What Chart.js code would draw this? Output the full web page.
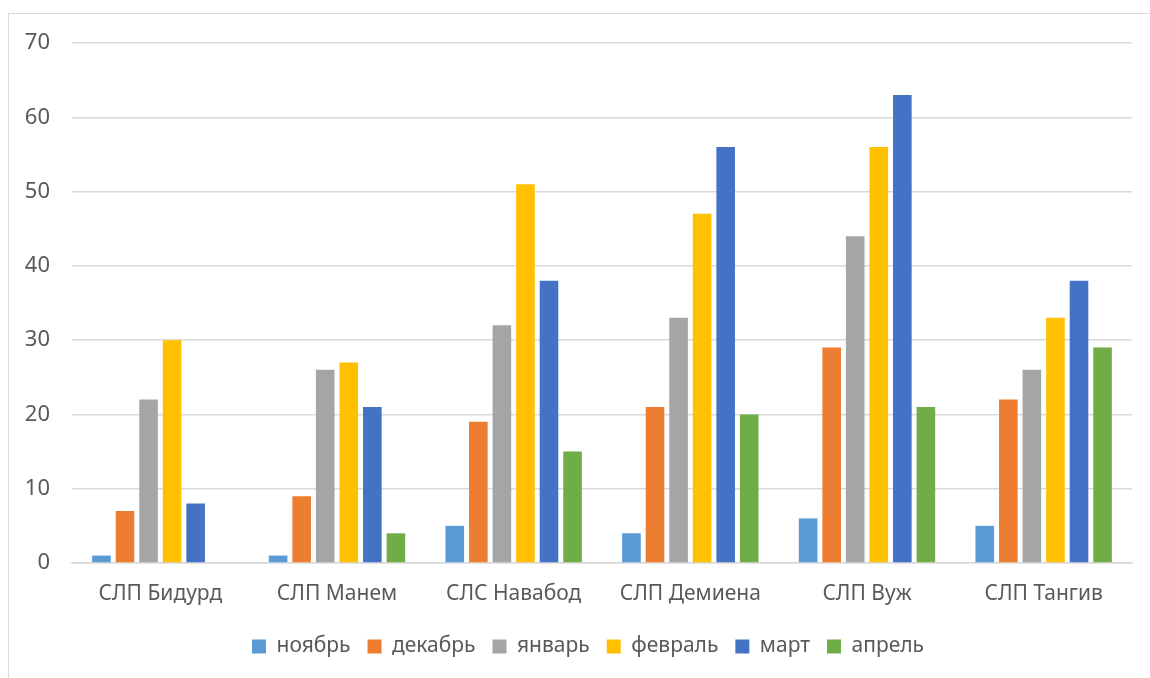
<!DOCTYPE html>
<html>
<head>
<meta charset="utf-8">
<script src="https://cdn.jsdelivr.net/npm/chart.js@4/dist/chart.umd.min.js"></script>
<style>
  html, body { margin: 0; padding: 0; background: #ffffff; }
  #wrap { width: 1150px; height: 678px; position: relative; }
</style>
</head>
<body>
<div id="wrap"><canvas id="chart" width="1150" height="678"></canvas></div>
<script>
// Участки (категории по оси X)
const categories = ['СЛП Бидурд', 'СЛП Манем', 'СЛС Навабод', 'СЛП Демиена', 'СЛП Вуж', 'СЛП Тангив'];

// Значения по месяцам
const november = [1, 1, 5, 4, 6, 5];
const december = [7, 9, 19, 21, 29, 22];
const january  = [22, 26, 32, 33, 44, 26];
const february = [30, 27, 51, 47, 56, 33];
const march    = [8, 21, 38, 56, 63, 38];
const april    = [0, 4, 15, 20, 21, 29];

const seriesNames = ['ноябрь', 'декабрь', 'январь', 'февраль', 'март', 'апрель'];
const seriesValues = [november, december, january, february, march, april];
const seriesColors = ['#5B9BD5', '#ED7D31', '#A5A5A5', '#FFC000', '#4472C4', '#70AD47'];

// Шкала Y
const yMin = 0, yMax = 70, yStep = 10;

const textColor = '#595959';
const gridColor = '#D9D9D9';
const fontFamily = '"Noto Sans", "Open Sans", sans-serif';

// Рамка области диаграммы
const frame = {
  id: 'frame',
  beforeDraw(chart) {
    const ctx = chart.ctx;
    ctx.save();
    ctx.fillStyle = '#ffffff';
    ctx.fillRect(0, 0, chart.width, chart.height);
    ctx.strokeStyle = gridColor;
    ctx.lineWidth = 1;
    ctx.beginPath();
    ctx.moveTo(8.5, chart.height);
    ctx.lineTo(8.5, 13.5);
    ctx.lineTo(chart.width, 13.5);
    ctx.stroke();
    ctx.restore();
  }
};

// Легенда центрируется по всей ширине рамки, а не только по области графика
const legendShift = {
  id: 'legendShift',
  afterLayout(chart) {
    const lg = chart.legend;
    if (lg) { lg.left += 12; lg.right += 12; }
  }
};

new Chart(document.getElementById('chart'), {
  type: 'bar',
  data: {
    labels: categories,
    datasets: seriesNames.map((name, i) => ({
      label: name,
      data: seriesValues[i],
      backgroundColor: seriesColors[i],
      borderWidth: 0,
      categoryPercentage: 0.8,
      barPercentage: 0.79
    }))
  },
  options: {
    responsive: false,
    animation: false,
    devicePixelRatio: 1,
    layout: { padding: { left: 20, right: 18, top: 43, bottom: 11 } },
    plugins: {
      tooltip: { enabled: false },
      legend: {
        position: 'bottom',
        labels: {
          boxWidth: 14,
          boxHeight: 14,
          padding: 17,
          color: textColor,
          font: { family: fontFamily, size: 21 }
        }
      }
    },
    scales: {
      x: {
        grid: { display: false, drawTicks: false },
        border: { display: true, color: gridColor, width: 1.5 },
        ticks: {
          color: textColor,
          padding: 18,
          maxRotation: 0,
          font: { family: fontFamily, size: 21 }
        },
        afterFit(scale) { scale.height = 56; }
      },
      y: {
        min: yMin,
        max: yMax,
        grid: { color: gridColor, lineWidth: 1.5, drawTicks: false },
        border: { display: false },
        ticks: {
          stepSize: yStep,
          color: textColor,
          padding: 22,
          font: { family: fontFamily, size: 22 }
        },
        afterFit(scale) { scale.width = 52; }
      }
    }
  },
  plugins: [frame, legendShift]
});
</script>
</body>
</html>
